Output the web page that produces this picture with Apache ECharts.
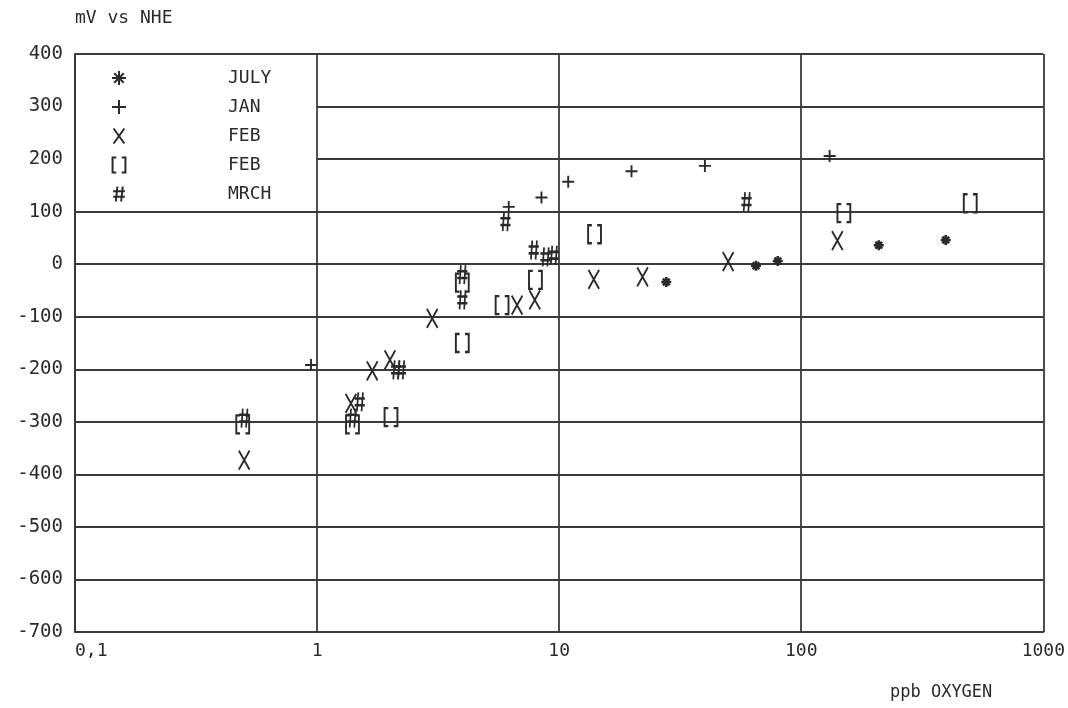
<!DOCTYPE html>
<html>
<head>
<meta charset="utf-8">
<script src="https://cdn.jsdelivr.net/npm/echarts@6/dist/echarts.min.js"></script>
<style>
html,body{margin:0;padding:0;background:#fff;}
#chart{width:1068px;height:708px;}
</style>
</head>
<body>
<div id="chart"></div>
<script>
// ---- data (ppb oxygen, mV vs NHE) ----
const julyX = [27.7, 65, 80, 209, 395];
const julyY = [-34, -3, 6, 36, 46];
const janX = [0.944, 6.19, 8.45, 10.9, 19.9, 40.0, 131];
const janY = [-192, 109, 127, 157, 177, 187, 206];
const febXX = [0.50, 1.38, 1.69, 2.0, 2.99, 6.70, 7.93, 13.9, 22.1, 49.9, 141];
const febXY = [-373, -265, -203, -182, -103, -78, -68, -29, -24, 5, 45];
const febSqX = [0.493, 1.40, 2.02, 3.98, 3.98, 5.81, 7.98, 14.0, 150, 499];
const febSqY = [-305, -305, -291, -150, -35, -78, -30, 57, 97, 116];
const mrchX = [0.50, 1.40, 1.5, 2.12, 2.22, 3.98, 3.98, 6.0, 7.85, 8.78, 9.49, 59.4];
const mrchY = [-293, -293, -262, -201, -201, -20, -68, 81, 27, 14, 17, 119];

const xTickValues = [0.1, 1, 10, 100, 1000];
const xTickLabels = ['0,1', '1', '10', '100', '1000'];
const legendLabels = ['JULY', 'JAN', 'FEB', 'FEB', 'MRCH'];

const INK = '#2a2a2a';
const LINE = '#3a3a3a';
const FONT = 'DejaVu Sans Mono';

const zip = (xs, ys) => xs.map((x, i) => [x, ys[i]]);

const SYM = {
  star: 'path://M0 5L10 5M5 0L5 10M1.6 1.6L8.4 8.4M8.4 1.6L1.6 8.4',
  plus: 'path://M0 5L10 5M5 0L5 10',
  cross: 'path://M0 0L10 14M10 0L0 14',
  box: 'path://M3.5 0L0 0L0 14L3.5 14M8.5 0L12 0L12 14L8.5 14',
  hash: 'path://M4 0L2.5 14M9 0L7.5 14M0 4.5L11 4.5M0 9.5L11 9.5'
};

function series(name, xs, ys, symbol, size, bw) {
  return {
    name: name,
    type: 'scatter',
    data: zip(xs, ys),
    symbol: symbol,
    symbolSize: size,
    symbolKeepAspect: true,
    itemStyle: { color: 'rgba(0,0,0,0)', borderColor: INK, borderWidth: bw, opacity: 1 },
    emphasis: { disabled: true },
    z: 3
  };
}

const seriesNames = ['JULY', 'JAN', 'FEB_X', 'FEB_BOX', 'MRCH'];

const chart = echarts.init(document.getElementById('chart'), null, { renderer: 'canvas' });

const option = {
  backgroundColor: '#fff',
  animation: false,
  textStyle: { fontFamily: FONT, color: INK },
  grid: { left: 75, right: 22, top: 54, bottom: 76, show: false },
  xAxis: {
    type: 'log',
    logBase: 10,
    min: 0.1,
    max: 1000,
    name: 'ppb OXYGEN',
    nameLocation: 'end',
    nameGap: -51,
    nameTextStyle: { fontFamily: FONT, fontSize: 17, color: INK, align: 'right', verticalAlign: 'top', padding: [52, 0, 0, 0] },
    axisLine: { show: true, onZero: false, lineStyle: { color: LINE, width: 2 } },
    axisTick: { show: false },
    minorTick: { show: false },
    splitLine: { show: true, lineStyle: { color: LINE, width: 1.8 } },
    axisLabel: {
      fontFamily: FONT, fontSize: 18, color: INK, margin: 10,
      alignMinLabel: 'left',
      formatter: function (v) {
        for (let i = 0; i < xTickValues.length; i++) {
          if (Math.abs(Math.log10(v) - Math.log10(xTickValues[i])) < 1e-6) return xTickLabels[i];
        }
        return '';
      }
    }
  },
  yAxis: {
    type: 'value',
    min: -700,
    max: 400,
    interval: 100,
    name: 'mV vs NHE',
    nameLocation: 'end',
    nameGap: 36,
    nameTextStyle: { fontFamily: FONT, fontSize: 18, color: INK, align: 'left', verticalAlign: 'middle' },
    axisLine: { show: true, onZero: false, lineStyle: { color: LINE, width: 2 } },
    axisTick: { show: false },
    splitLine: { show: true, lineStyle: { color: LINE, width: 1.8 } },
    axisLabel: { fontFamily: FONT, fontSize: 19, color: INK, margin: 12 }
  },
  legend: {
    orient: 'vertical',
    left: 106,
    top: 64,
    itemWidth: 14,
    itemHeight: 15,
    itemGap: 11,
    selectedMode: false,
    data: seriesNames,
    formatter: function (name) { return legendLabels[seriesNames.indexOf(name)]; },
    textStyle: { fontFamily: FONT, fontSize: 18, color: INK, padding: [0, 0, 0, 97] },
    z: 5
  },
  series: [
    series(seriesNames[0], julyX, julyY, SYM.star, 10, 2.6),
    series(seriesNames[1], janX, janY, SYM.plus, 12, 1.9),
    series(seriesNames[2], febXX, febXY, SYM.cross, [15, 19], 2),
    series(seriesNames[3], febSqX, febSqY, SYM.box, [15, 18], 2.1),
    series(seriesNames[4], mrchX, mrchY, SYM.hash, [13, 19], 2.1)
  ]
};

chart.setOption(option);

// White legend box: hides the 200/300 grid lines between x = 0.1 and x = 1, above y = 100
const p1 = chart.convertToPixel({ gridIndex: 0 }, [0.1, 400]);
const p2 = chart.convertToPixel({ gridIndex: 0 }, [1, 100]);
chart.setOption({
  graphic: [{
    type: 'rect',
    z: 1,
    silent: true,
    shape: { x: p1[0] + 1, y: p1[1] + 1, width: p2[0] - p1[0] - 2, height: p2[1] - p1[1] - 2 },
    style: { fill: '#fff' }
  }]
});
</script>
</body>
</html>
